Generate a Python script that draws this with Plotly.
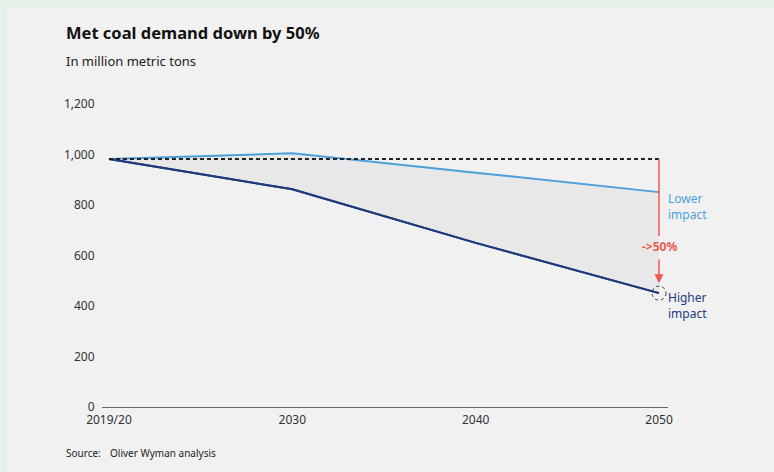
import plotly.graph_objects as go

# ---- data ----
categories = ["2019/20", "2030", "2040", "2050"]
lower_impact = [982, 1005, 928, 851]
higher_impact = [982, 862, 650, 451]
baseline = [982, 982, 982, 982]
y_ticks = [0, 200, 400, 600, 800, 1000, 1200]
y_tick_labels = ["0", "200", "400", "600", "800", "1,000", "1,200"]
arrow_tip_value = 490
arrow_label_value = 634
arrow_label = "->50%"

x_idx = list(range(len(categories)))

W, H = 774, 472
L, R, T, B = 102, 106, 104, 65
pw, ph = W - L - R, H - T - B

BG = "#f1f1f1"
GREEN = "#e5f3e9"
LIGHT = "#4d9fdc"
DARK = "#1f3a7c"
RED = "#ef5a52"
FONT = "Noto Sans"

fig = go.Figure()

# fill between (higher first, then lower with tonexty)
fig.add_trace(go.Scatter(x=x_idx, y=higher_impact, mode="lines",
                         line=dict(color=DARK, width=2), hoverinfo="skip",
                         showlegend=False))
fig.add_trace(go.Scatter(x=x_idx, y=lower_impact, mode="lines",
                         line=dict(color=LIGHT, width=2), fill="tonexty",
                         fillcolor="rgba(215,215,215,0.32)", hoverinfo="skip",
                         showlegend=False))
# redraw higher line on top of fill
fig.add_trace(go.Scatter(x=x_idx, y=higher_impact, mode="lines",
                         line=dict(color=DARK, width=2), hoverinfo="skip",
                         showlegend=False))
# baseline dashed
fig.add_trace(go.Scatter(x=x_idx, y=baseline, mode="lines",
                         line=dict(color="#222222", width=2, dash="4px,3px"),
                         hoverinfo="skip", showlegend=False))

last = x_idx[-1]

def px_to_val(px):
    return px / ph * 1200

# red vertical line broken around label
gap = px_to_val(11)
fig.add_shape(type="line", xref="x", yref="y", x0=last, x1=last,
              y0=baseline[-1], y1=arrow_label_value + gap,
              line=dict(color=RED, width=1.5))
fig.add_annotation(x=last, y=arrow_tip_value, xref="x", yref="y",
                   ax=last, ay=arrow_label_value - gap, axref="x", ayref="y",
                   showarrow=True, arrowhead=2, arrowsize=1.2, arrowwidth=1.5,
                   arrowcolor=RED, text="")
fig.add_annotation(x=last, y=arrow_label_value, xref="x", yref="y",
                   text="<b>" + arrow_label + "</b>",
                   showarrow=False, font=dict(family=FONT, size=12, color=RED))

# dashed circle at higher impact endpoint
fig.add_shape(type="circle", xref="x", yref="y", xsizemode="pixel",
              ysizemode="pixel", xanchor=last, yanchor=higher_impact[-1],
              x0=-7, x1=7, y0=-7, y1=7,
              line=dict(color="#333333", width=1, dash="dot"))

# series labels
fig.add_annotation(x=last, y=lower_impact[-1], xref="x", yref="y",
                   text="Lower<br>impact", showarrow=False, xanchor="left",
                   yanchor="top", xshift=7, yshift=4, align="left",
                   font=dict(family=FONT, size=12, color=LIGHT))
fig.add_annotation(x=last, y=higher_impact[-1], xref="x", yref="y",
                   text="Higher<br>impact", showarrow=False, xanchor="left",
                   yanchor="top", xshift=7, yshift=6, align="left",
                   font=dict(family=FONT, size=12, color=DARK))

# page background: green frame + gray panel
def pxx(p):
    return (p - L) / pw

def pxy(p):
    return (H - B - p) / ph

fig.add_shape(type="rect", xref="paper", yref="paper", layer="below",
              x0=pxx(7), x1=pxx(W + 5), y0=pxy(H + 5), y1=pxy(7),
              fillcolor=BG, line=dict(width=0))

# titles and source
fig.add_annotation(xref="paper", yref="paper", x=pxx(64), y=pxy(32),
                   xanchor="left", yanchor="middle", showarrow=False,
                   text="<b>Met coal demand down by 50%</b>",
                   font=dict(family=FONT, size=16.5, color="#111111"))
fig.add_annotation(xref="paper", yref="paper", x=pxx(64), y=pxy(61),
                   xanchor="left", yanchor="middle", showarrow=False,
                   text="In million metric tons",
                   font=dict(family=FONT, size=13, color="#222222"))
fig.add_annotation(xref="paper", yref="paper", x=pxx(64), y=pxy(453),
                   xanchor="left", yanchor="middle", showarrow=False,
                   text="Source:", font=dict(family=FONT, size=10, color="#222222"))
fig.add_annotation(xref="paper", yref="paper", x=pxx(108), y=pxy(453),
                   xanchor="left", yanchor="middle", showarrow=False,
                   text="Oliver Wyman analysis",
                   font=dict(family=FONT, size=10, color="#222222"))

fig.update_layout(
    width=W, height=H,
    margin=dict(l=L, r=R, t=T, b=B, pad=0),
    paper_bgcolor=GREEN, plot_bgcolor="rgba(0,0,0,0)",
    font=dict(family=FONT, size=12, color="#333333"),
    xaxis=dict(range=[-0.038, 3.049], tickmode="array", tickvals=x_idx,
               ticktext=categories, showgrid=False, zeroline=False,
               showline=True, linecolor="#666666", linewidth=1,
               ticks="outside", ticklen=2, tickcolor="rgba(0,0,0,0)",
               tickfont=dict(family=FONT, size=12, color="#333333"),
               fixedrange=True),
    yaxis=dict(range=[0, 1200], tickmode="array", tickvals=y_ticks,
               ticktext=y_tick_labels, showgrid=False, zeroline=False,
               showline=False, ticks="outside", ticklen=4,
               tickcolor="rgba(0,0,0,0)",
               tickfont=dict(family=FONT, size=12, color="#333333"),
               fixedrange=True),
    showlegend=False,
)

fig.write_html("out.html")
